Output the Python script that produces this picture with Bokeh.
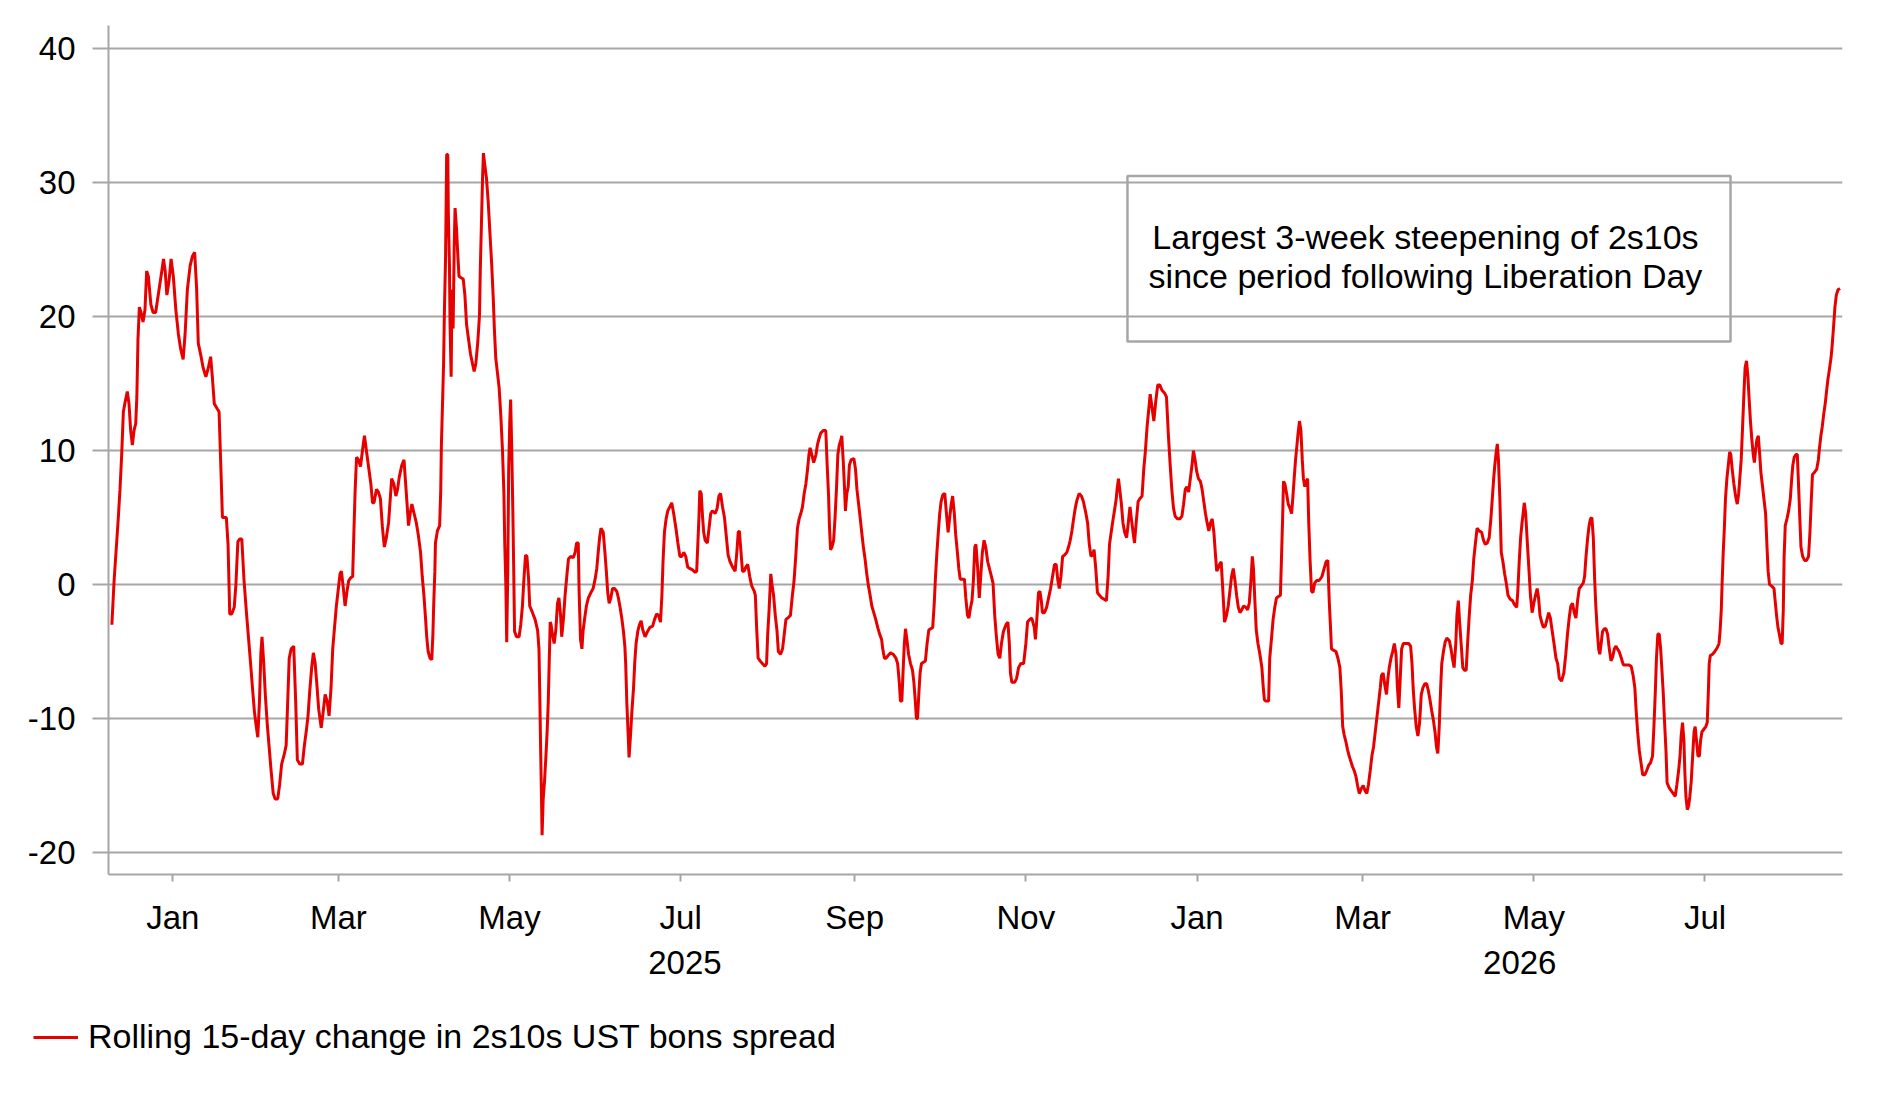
import pandas as pd
from bokeh.plotting import figure
from bokeh.layouts import column
from bokeh.models import (Range1d, LinearAxis, FixedTicker, BoxAnnotation, Label,
                          Legend, LegendItem, ColumnDataSource)
from bokeh.embed import file_html
from bokeh.resources import INLINE

# ---------------- data ----------------
start_date = "2025-01-01"          # day 0 of the day offsets below

# Dec 2024 - Mar 2025
days_a = [-21.7,-20.9,-20.1,-19.4,-18.8,-18.2,-17.6,-17.0,-16.2,-15.6,
          -15.0,-14.4,-13.8,-13.2,-12.8,-12.4,-11.9,-11.3,-10.6,-9.9,
          -9.3,-8.7,-7.8,-7.0,-6.1,-4.9,-3.9,-3.3,-2.7,-2.1,
          -1.3,-0.6,0.2,1.1,2.0,2.8,3.7,4.4,5.2,6.2,
          7.0,7.8,8.5,9.1,10.0,10.8,11.8,12.7,13.5,14.1,
          14.8,15.9,16.5,17.1,17.7,18.4,19.1,19.7,20.3,21.0,
          21.9,22.5,23.2,23.9,24.6,25.4,26.3,27.0,27.7,28.4,
          29.1,29.7,30.3,30.9,31.4,31.8,32.4,33.0,33.7,34.3,
          35.0,35.8,36.5,37.4,38.1,38.8,39.7,40.4,40.9,41.5,
          42.2,43.1,43.8,44.4,45.3,46.2,46.9,47.6,48.2,48.8,
          49.5,50.1,50.7,51.3,52.0,52.9,53.6,54.3,55.0,55.7,
          56.4,57.0,57.6,58.3,58.9,59.6,60.1,60.8,61.4,62.1,
          62.7,63.4,64.1,64.6,65.0,65.5,66.2,66.9,67.6,68.3,
          69.0,69.7,70.6,71.2,71.7,72.6,73.3,74.0,74.7,75.4,
          76.1,76.9,77.5,78.0,78.8,79.5]
vals_a = [-3.0,0.3,2.8,5.0,7.1,9.7,12.9,13.6,14.4,13.5,
          11.5,10.4,11.5,12.0,14.0,18.3,20.7,20.3,19.6,20.5,
          23.4,23.0,20.9,20.3,20.3,22.0,23.4,24.3,23.4,21.6,
          22.7,24.3,23.0,20.5,18.7,17.6,16.8,18.7,22.0,23.8,
          24.5,24.8,22.1,18.0,17.1,16.2,15.5,16.2,17.0,15.5,
          13.5,13.1,12.9,9.0,5.0,5.0,5.0,3.0,-2.2,-2.2,
          -1.7,0.0,3.2,3.4,3.4,0.3,-2.2,-4.0,-5.8,-7.7,
          -9.5,-10.5,-11.4,-8.7,-5.1,-3.9,-5.8,-8.3,-10.5,-12.0,
          -13.8,-15.6,-16.0,-16.0,-14.9,-13.4,-12.7,-12.0,-9.1,-5.5,
          -4.8,-4.6,-8.7,-13.1,-13.4,-13.4,-12.0,-10.9,-9.8,-8.0,
          -6.2,-5.1,-5.8,-7.3,-9.3,-10.7,-9.5,-8.2,-8.7,-9.8,
          -7.7,-4.8,-3.3,-1.6,-0.5,0.8,1.0,-0.3,-1.6,-0.5,
          0.3,0.5,0.6,4.3,7.1,9.5,9.3,8.8,10.0,11.1,
          10.0,8.9,7.5,6.1,6.1,7.1,6.9,6.4,4.3,2.8,
          3.5,4.6,6.4,7.9,7.5,6.6]

# Mar 2025 - Jul 2025
days_b = [80.1,80.7,81.6,82.4,83.0,83.5,84.0,84.6,85.2,86.0,
          86.8,87.5,88.3,88.9,89.5,90.1,90.5,91.0,91.7,92.3,
          92.7,93.0,93.4,93.6,94.3,95.1,95.5,95.7,96.1,96.5,
          96.8,97.2,97.4,97.6,98.0,98.2,98.6,98.8,99.2,99.5,
          99.9,100.3,100.6,101.1,101.6,102.0,102.7,103.5,104.1,104.7,
          105.4,106.1,106.8,107.4,108.0,108.7,109.3,109.6,110.0,110.4,
          110.7,111.2,111.8,112.4,113.0,113.6,114.2,114.6,115.1,115.7,
          116.3,116.9,117.5,118.0,118.3,118.7,119.0,119.4,119.7,120.1,
          120.4,120.8,121.2,121.5,121.8,122.5,123.4,124.0,124.6,125.1,
          125.7,126.2,126.8,127.2,128.2,129.1,130.0,130.5,130.8,131.1,
          131.4,131.6,132.0,132.5,132.9,133.4,133.8,134.1,134.5,134.8,
          135.3,135.9,136.5,137.1,137.6,138.2,138.6,139.2,139.8,140.4,
          141.0,141.8,142.7,143.4,143.9,144.5,144.8,145.3,145.8,146.2,
          146.8,147.4,148.1,149.0,149.8,150.5,151.1,151.6,152.1,152.6,
          153.4,154.0,154.5,155.0,155.5,156.1,156.7,157.4,158.2,158.8,
          159.4,160.0,160.6,161.1,161.4,161.8,162.3,162.6,163.1,163.6,
          164.2,164.6,165.1,165.7,166.3,166.9,167.5,168.3,169.2,170.0,
          171.0,171.7,172.4,173.1,173.8,174.3,174.7,175.2,175.8,176.4,
          177.1,177.8,178.5,179.3,180.0,180.7,181.4,182.1,182.8]
vals_b = [7.1,8.0,8.9,9.3,7.5,6.0,4.4,5.3,6.0,5.3,
          4.6,3.7,2.4,0.6,-0.8,-2.6,-3.9,-5.0,-5.5,-5.6,
          -3.7,-1.4,1.0,3.1,4.0,4.4,7.1,10.2,13.3,16.4,
          20.4,24.3,28.1,32.1,32.1,27.7,23.8,19.5,15.5,22.0,
          19.1,25.4,28.1,26.6,24.5,23.0,22.9,22.8,21.6,19.4,
          18.3,17.2,16.5,15.9,16.5,18.1,20.1,23.6,27.0,30.4,
          32.2,31.3,30.3,28.6,26.3,24.1,21.4,19.1,16.9,15.8,
          14.7,12.6,10.0,6.8,3.1,-0.1,-4.3,1.3,8.6,12.2,
          13.8,10.0,5.3,1.0,-3.5,-3.9,-3.9,-3.0,-1.6,0.3,
          2.2,2.1,0.4,-1.6,-2.1,-2.6,-3.4,-4.8,-8.4,-12.4,
          -16.0,-18.7,-16.0,-14.6,-13.1,-11.0,-8.8,-6.2,-2.8,-3.0,
          -3.7,-4.4,-3.4,-1.4,-1.0,-2.3,-3.9,-2.6,-0.8,0.6,
          1.9,2.1,2.0,2.4,3.1,3.1,-0.5,-4.1,-4.8,-3.5,
          -2.5,-1.6,-1.0,-0.6,-0.3,0.4,1.2,2.4,3.5,4.2,
          3.9,2.4,1.0,-0.6,-1.4,-1.0,-0.3,-0.3,-0.5,-1.0,
          -1.7,-2.5,-3.5,-4.6,-5.9,-8.8,-11.3,-12.9,-11.3,-9.5,
          -7.7,-5.9,-4.4,-3.5,-3.0,-2.7,-3.4,-3.9,-3.5,-3.2,
          -3.1,-2.6,-2.2,-2.3,-2.8,-0.8,1.7,3.9,4.9,5.5,
          5.8,6.1,5.3,4.2,3.1,2.1,2.1,2.4,2.1]

# Jul 2025 - Oct 2025
days_c = [183.5,184.2,185.2,186.2,186.7,187.1,187.5,187.8,188.3,188.8,
          189.2,189.7,190.5,191.1,191.7,192.3,193.3,194.0,194.6,195.2,
          195.9,196.6,197.3,197.9,198.6,199.5,200.4,201.0,201.5,201.9,
          202.5,203.0,203.6,204.2,204.9,205.6,206.3,207.2,207.6,208.1,
          208.6,209.3,210.1,211.0,211.6,212.0,212.5,213.1,213.6,214.1,
          214.7,215.3,215.8,216.6,217.3,217.9,218.5,219.2,220.1,220.8,
          221.4,222.0,222.6,223.2,223.8,224.4,225.0,225.6,226.2,226.7,
          227.1,227.7,228.4,229.2,229.7,230.3,230.9,231.8,232.7,233.2,
          233.7,234.0,234.4,234.9,235.5,236.0,236.5,237.0,237.5,238.1,
          238.4,238.9,239.4,239.7,240.2,240.7,241.1,241.7,242.7,243.3,
          243.8,244.4,245.0,245.5,246.1,246.7,247.3,247.9,248.5,249.1,
          249.8,250.5,251.2,251.9,252.6,253.0,253.6,254.2,254.9,255.8,
          256.7,257.7,258.3,258.9,259.3,259.8,260.3,260.7,261.1,261.6,
          262.2,262.9,263.6,264.1,264.6,265.0,265.4,265.9,266.3,266.8,
          267.5,268.2,268.8,269.4,270.1,270.8,271.3,271.8,272.3,272.9,
          273.3,273.8,274.4,275.1,275.7,276.3,276.8,277.4,277.9,278.5,
          279.0,279.6,280.1,280.6,281.4,282.1,282.6,283.2,283.7,284.3,
          284.8,285.3,285.8,286.2]
vals_c = [1.3,1.2,1.1,0.9,1.0,3.0,5.0,7.0,6.8,5.0,
          3.9,3.3,3.1,4.2,5.3,5.5,5.3,5.7,6.6,6.8,
          5.8,5.0,3.5,2.2,1.7,1.3,1.0,2.4,3.9,4.0,
          2.4,1.0,1.0,1.3,1.5,0.6,-0.1,-0.5,-0.8,-3.4,
          -5.5,-5.7,-5.9,-6.1,-5.9,-3.7,-1.9,0.8,-0.1,-0.8,
          -2.3,-3.4,-5.0,-5.2,-4.8,-3.7,-2.6,-2.5,-2.3,-0.8,
          0.3,2.1,4.2,4.9,5.3,5.8,6.8,7.5,8.6,9.7,
          10.2,9.7,9.1,9.7,10.4,10.9,11.3,11.5,11.5,8.9,
          6.6,4.4,2.6,2.8,3.3,5.0,7.1,9.7,10.4,10.8,
          11.1,9.3,7.1,5.5,6.8,7.3,8.9,9.3,9.4,8.6,
          7.1,6.0,4.9,3.9,2.8,1.9,0.8,-0.1,-0.8,-1.6,
          -2.1,-2.6,-3.2,-3.7,-4.1,-4.8,-5.5,-5.5,-5.3,-5.1,
          -5.2,-5.5,-5.9,-7.3,-8.7,-8.7,-6.2,-4.4,-3.3,-4.1,
          -5.2,-5.9,-6.4,-7.3,-8.7,-10.0,-10.0,-8.0,-6.6,-5.9,
          -5.8,-5.7,-4.4,-3.4,-3.3,-3.2,-1.6,0.6,2.4,4.2,
          5.3,6.2,6.7,6.8,5.3,3.9,4.9,6.0,6.6,5.3,
          3.7,2.4,1.2,0.4,0.4,0.4,-1.0,-2.3,-2.5,-1.7,
          -1.2,0.3,2.8,3.0]

# Oct 2025 - Jan 2026
days_d = [286.8,287.4,287.9,288.5,289.1,289.7,290.4,291.5,292.3,292.9,
          293.5,294.1,294.7,295.3,296.0,296.9,297.6,298.1,298.5,299.0,
          300.0,300.7,301.4,302.2,303.2,304.0,304.6,305.4,306.1,307.0,
          307.4,307.9,308.5,309.0,309.5,309.9,310.6,311.4,312.1,312.8,
          313.5,314.2,314.8,315.4,315.9,316.5,317.1,317.8,318.6,319.2,
          319.8,320.4,321.0,321.6,322.2,323.0,323.8,324.5,325.4,326.0,
          326.6,327.2,327.8,328.3,328.9,329.5,330.2,331.1,331.9,332.7,
          333.3,333.8,334.4,335.1,335.7,336.2,336.5,337.0,337.5,338.0,
          338.6,339.2,339.9,340.5,341.1,341.6,342.2,342.7,343.3,344.0,
          344.6,345.4,346.0,346.6,347.2,347.8,348.3,348.9,349.6,350.3,
          351.0,351.7,352.5,353.4,354.1,354.8,355.4,356.0,356.6,357.2,
          358.0,358.9,359.6,360.2,360.8,361.4,362.0,362.6,363.2,363.7,
          364.3,364.9,365.5,366.2,366.8,367.4,368.0,368.6,369.2,369.8,
          370.4,371.0,371.5,372.0,372.5,373.0,373.6,374.2,374.8,375.5,
          376.1,376.7,377.3,377.9,378.5,379.1,379.7,380.3,380.9,381.6,
          382.4,383.0,383.6,384.2,384.7,385.1,385.6,386.1,386.7,387.4,
          388.1,388.6,389.0,389.5]
vals_d = [1.3,-1.0,0.6,2.4,3.3,2.8,1.7,0.8,0.1,-2.3,
          -3.9,-5.2,-5.5,-4.4,-3.5,-3.0,-2.8,-4.4,-6.6,-7.3,
          -7.3,-7.0,-6.2,-5.9,-5.9,-4.4,-2.8,-2.6,-2.5,-3.2,
          -4.1,-2.6,-0.6,-0.5,-1.2,-2.1,-2.1,-1.7,-1.0,-0.3,
          0.6,1.5,1.5,0.3,-0.3,0.6,2.1,2.2,2.4,2.8,
          3.3,4.0,4.9,5.7,6.3,6.8,6.6,6.2,5.3,4.6,
          3.0,2.1,2.2,2.6,1.2,-0.6,-0.8,-1.0,-1.1,-1.2,
          0.6,3.0,3.9,4.9,5.7,6.4,7.1,7.9,7.0,6.1,
          4.6,3.9,3.5,4.6,5.8,4.9,3.9,3.1,4.6,6.2,
          6.4,6.6,8.6,10.0,11.8,13.1,14.2,13.3,12.2,13.7,
          14.9,14.9,14.5,14.3,14.0,11.1,9.0,7.1,5.7,5.1,
          4.9,4.9,5.1,6.0,7.1,7.3,6.9,7.9,8.9,10.0,
          9.3,8.4,7.9,7.7,7.1,6.2,5.3,4.6,4.0,4.6,
          4.9,3.9,2.4,1.0,1.2,1.5,1.7,-0.5,-2.8,-2.3,
          -1.6,-0.5,0.6,1.2,0.3,-0.8,-1.7,-2.1,-1.9,-1.6,
          -1.7,-1.9,-1.4,0.3,2.1,1.2,-1.2,-3.4,-4.4,-5.2,
          -6.2,-7.7,-8.6,-8.7]

# Jan 2026 - May 2026
days_e = [390.5,390.9,391.5,392.1,392.7,393.3,394.0,394.7,395.1,395.5,
          395.8,396.3,396.9,397.5,398.1,398.7,399.1,399.6,400.1,400.6,
          401.0,401.5,402.0,402.5,402.9,403.4,403.9,404.4,404.8,405.3,
          405.8,406.3,406.9,407.6,408.5,409.5,410.3,411.0,411.6,412.1,
          412.6,412.9,413.6,414.5,415.2,415.9,416.4,416.9,417.4,418.0,
          418.6,419.2,419.8,420.4,421.0,421.6,422.2,422.8,423.6,424.2,
          424.9,425.5,426.1,426.7,427.3,427.9,428.5,429.1,429.7,430.3,
          430.7,431.3,431.9,432.5,433.0,433.5,434.1,434.7,435.3,435.9,
          436.4,436.9,437.4,437.9,438.5,439.4,440.4,441.1,441.6,442.0,
          442.5,443.1,443.7,444.3,444.9,445.5,446.2,446.8,447.4,448.0,
          448.6,449.2,449.8,450.3,450.8,451.3,451.8,452.2,452.8,453.4,
          454.0,454.9,455.5,456.0,456.6,457.2,457.6,458.1,458.5,459.1,
          459.7,460.3,460.9,461.4,462.0,462.5,463.1,463.6,464.2,464.8,
          465.5,466.4,467.1,467.7,468.4,469.1,469.7,470.2,470.7,471.1,
          471.6,472.0,472.4,472.9,473.4,474.0,474.6,475.2,475.8,476.6,
          477.4,478.1,478.9,479.3,479.8,480.3,480.8,481.2,481.6,482.1,
          482.7,483.3,483.8,484.4,485.0,485.6,486.2,486.7,487.2,487.8,
          488.4,489.1,489.7,490.3,490.9,491.5,492.2,492.9]
vals_e = [-8.7,-5.5,-4.1,-2.6,-1.7,-1.0,-0.9,-0.8,2.1,5.0,
          7.7,7.5,6.8,6.0,5.7,5.3,6.4,7.9,9.3,10.4,
          11.3,12.2,11.5,9.3,7.9,7.3,7.7,7.9,4.6,1.7,
          -0.5,-0.6,0.1,0.3,0.3,0.6,1.2,1.7,1.8,-1.2,
          -3.4,-4.8,-4.9,-5.0,-5.5,-6.2,-8.0,-10.6,-11.2,-11.7,
          -12.3,-12.8,-13.2,-13.6,-13.9,-14.3,-15.0,-15.6,-15.2,-15.0,
          -15.4,-15.6,-14.9,-13.9,-12.8,-12.1,-11.0,-9.9,-8.8,-7.7,
          -6.8,-6.6,-7.5,-8.2,-7.0,-6.2,-5.5,-5.0,-4.4,-5.2,
          -7.7,-9.2,-7.0,-4.8,-4.4,-4.4,-4.4,-4.6,-5.9,-7.7,
          -9.2,-10.6,-11.3,-10.3,-8.2,-7.7,-7.4,-7.4,-7.9,-8.6,
          -9.4,-10.1,-11.0,-12.1,-12.6,-10.6,-7.7,-5.9,-5.0,-4.3,
          -4.0,-4.2,-4.8,-5.5,-6.2,-4.4,-2.3,-1.2,-2.6,-4.4,
          -6.2,-6.4,-6.4,-4.4,-2.3,-0.8,0.3,1.9,3.1,4.2,
          4.0,3.9,3.3,3.0,3.1,3.5,4.9,6.4,7.9,8.9,
          9.9,10.5,9.3,6.4,2.4,1.7,0.8,0.1,-0.8,-1.1,
          -1.2,-1.5,-1.7,-0.5,1.7,3.5,4.6,5.3,6.1,5.3,
          3.1,1.0,-0.8,-2.1,-1.4,-0.8,-0.3,-1.0,-2.3,-2.8,
          -3.2,-3.1,-2.6,-2.1,-2.5,-3.4,-4.4,-5.5]

# May 2026 - Aug 2026
days_f = [493.5,494.1,494.9,495.7,496.4,497.0,497.6,498.2,498.8,499.4,
          500.0,500.6,501.2,501.9,502.6,503.1,503.6,504.2,504.7,505.2,
          505.7,506.2,506.7,507.1,507.6,508.1,508.5,509.0,509.5,510.1,
          510.7,511.3,511.9,512.5,513.1,513.7,514.3,514.8,515.4,516.2,
          516.9,517.8,518.8,519.7,520.4,521.0,521.5,522.0,522.6,523.2,
          523.8,524.5,525.2,525.9,526.6,527.3,527.8,528.3,528.7,529.2,
          529.7,530.2,530.6,531.1,531.6,532.1,532.5,533.3,534.0,534.7,
          535.4,536.0,536.6,537.1,537.5,538.0,538.5,538.8,539.2,539.7,
          540.2,540.6,541.1,541.6,542.1,542.5,543.0,543.5,544.0,544.4,
          544.9,545.6,546.3,546.8,547.2,547.5,547.9,548.7,549.5,550.4,
          551.0,551.4,551.8,552.1,552.5,552.9,553.3,553.8,554.3,554.8,
          555.2,555.7,556.3,556.9,557.5,558.0,558.4,558.9,559.4,559.9,
          560.3,560.8,561.3,561.8,562.2,562.7,563.2,563.6,564.0,564.5,
          565.0,565.5,565.9,566.4,567.0,567.6,568.1,568.5,569.0,569.7,
          570.6,571.0,571.5,572.0,572.5,573.1,573.5,573.9,574.2,574.6,
          575.2,575.8,576.4,576.9,577.3,577.8,578.4,578.9,579.4,579.8,
          580.2,580.8,581.5,582.2,582.9,583.4,583.9,584.3,585.1,585.8,
          586.4,586.8,587.3,587.8,588.3,588.9,589.3,589.8,590.3,590.9,
          591.3,591.8,592.3,592.8,593.4,594.1]
vals_f = [-5.9,-7.0,-7.2,-6.6,-5.2,-3.7,-2.5,-1.6,-1.4,-2.1,
          -2.5,-1.2,-0.3,-0.1,0.1,0.6,2.1,3.5,4.4,4.9,
          5.0,3.5,0.3,-1.6,-3.4,-4.8,-5.2,-4.4,-3.5,-3.3,
          -3.3,-3.7,-4.8,-5.7,-5.4,-4.8,-4.6,-4.8,-5.0,-5.5,
          -6.0,-6.0,-6.0,-6.1,-6.8,-7.7,-9.5,-11.0,-12.4,-13.3,
          -14.2,-14.2,-13.9,-13.5,-13.3,-12.8,-10.6,-8.0,-5.5,-3.7,
          -3.7,-4.8,-6.2,-8.0,-10.3,-12.4,-14.8,-15.2,-15.4,-15.6,
          -15.8,-14.9,-13.9,-12.8,-11.3,-10.3,-11.7,-13.9,-15.8,-16.8,
          -16.5,-15.8,-14.7,-12.8,-11.0,-10.6,-11.7,-12.8,-12.8,-11.7,
          -11.0,-10.8,-10.6,-10.3,-8.0,-5.9,-5.3,-5.2,-5.0,-4.7,
          -4.4,-3.4,-1.9,0.1,2.4,4.2,6.4,7.9,8.9,9.9,
          9.7,8.6,7.5,6.6,6.0,6.8,7.9,9.3,11.8,14.4,
          16.2,16.7,15.5,13.6,12.2,10.8,9.7,9.1,10.0,10.8,
          11.1,9.7,8.4,7.5,6.4,5.3,2.8,1.0,0.0,-0.1,
          -0.3,-1.2,-2.3,-3.2,-3.7,-4.4,-4.4,-1.9,2.1,4.4,
          4.9,5.5,6.4,7.9,8.9,9.5,9.7,9.7,7.1,4.9,
          2.8,2.1,1.8,1.8,2.1,3.9,6.4,8.2,8.4,8.6,
          9.3,10.2,11.1,11.8,12.7,13.6,14.4,15.3,16.0,16.9,
          17.8,19.2,20.7,21.6,22.0,22.1]

series_label = "Rolling 15-day change in 2s10s UST bons spread"
tick_dates = ["2025-01-01", "2025-03-01", "2025-05-01", "2025-07-01", "2025-09-01",
              "2025-11-01", "2026-01-01", "2026-03-01", "2026-05-01", "2026-07-01"]
tick_labels = ["Jan", "Mar", "May", "Jul", "Sep", "Nov", "Jan", "Mar", "May", "Jul"]
year_labels = ["2025", "2026"]
y_ticks = [-20, -10, 0, 10, 20, 30, 40]
y_tick_labels = ["-20", "-10", "0", "10", "20", "30", "40"]
note_lines = ["Largest 3-week steepening of 2s10s", "since period following Liberation Day"]

# ---------------- build ----------------
day_parts = [days_a, days_b, days_c, days_d, days_e, days_f]
val_parts = [vals_a, vals_b, vals_c, vals_d, vals_e, vals_f]
for dpart, vpart in zip(day_parts, val_parts):
    assert len(dpart) == len(vpart), (len(dpart), len(vpart))
days = [d for part in day_parts for d in part]
vals = [v for part in val_parts for v in part]

base = pd.Timestamp(start_date)
src = ColumnDataSource(dict(day=days, val=vals,
                            date=[base + pd.Timedelta(days=d) for d in days]))

tick_days = [int((pd.Timestamp(t) - base).days) for t in tick_dates]

X_START, X_END = -22.9, 595.0
Y_START, Y_END = -21.64, 41.72

year_starts = [(pd.Timestamp(y + "-01-01") - base).days for y in year_labels]
year_ends = [min((pd.Timestamp(y + "-12-31") - base).days + 1, X_END) for y in year_labels]
year_mid = [round((max(s, X_START) + e) / 2.0, 1) for s, e in zip(year_starts, year_ends)]

GRAY = "#A6A6A6"
RED = "#E60000"
FONT = "Liberation Sans"
FS = "33px"
W = 1867

p = figure(width=W, height=1000, output_backend="svg", toolbar_location=None,
           x_range=Range1d(X_START, X_END), y_range=Range1d(Y_START, Y_END),
           min_border_left=108, min_border_right=25, min_border_top=25,
           min_border_bottom=126)
p.frame_align = False
p.outline_line_color = None
p.background_fill_color = "white"
p.border_fill_color = "white"

r = p.line("day", "val", source=src, line_color=RED, line_width=3.0)

# y axis & grid
ya = p.yaxis[0]
ya.ticker = FixedTicker(ticks=y_ticks)
ya.major_label_overrides = {t: s for t, s in zip(y_ticks, y_tick_labels)}
ya.axis_line_color = GRAY
ya.axis_line_width = 2
ya.major_tick_line_color = GRAY
ya.major_tick_line_width = 2
ya.major_tick_out = 16
ya.major_tick_in = 0
ya.minor_tick_line_color = None
ya.major_label_text_font = FONT
ya.major_label_text_font_size = FS
ya.major_label_text_color = "black"
ya.major_label_standoff = 17

p.ygrid.ticker = FixedTicker(ticks=y_ticks)
p.ygrid.grid_line_color = GRAY
p.ygrid.grid_line_width = 2.2
p.xgrid.visible = False

# x axis (months)
xa = p.xaxis[0]
xa.ticker = FixedTicker(ticks=tick_days)
xa.major_label_overrides = {d: lab for d, lab in zip(tick_days, tick_labels)}
xa.axis_line_color = GRAY
xa.axis_line_width = 2.2
xa.major_tick_line_color = GRAY
xa.major_tick_line_width = 2
xa.major_tick_out = 7
xa.major_tick_in = 0
xa.minor_tick_line_color = None
xa.major_label_text_font = FONT
xa.major_label_text_font_size = FS
xa.major_label_text_color = "black"
xa.major_label_standoff = 17

# second x axis (years)
yr = LinearAxis(ticker=FixedTicker(ticks=year_mid),
                major_label_overrides={m: lab for m, lab in zip(year_mid, year_labels)},
                axis_line_color=None, major_tick_line_color=None,
                minor_tick_line_color=None, major_tick_out=0, major_tick_in=0,
                major_label_text_font=FONT, major_label_text_font_size=FS,
                major_label_text_color="black", major_label_standoff=12)
p.add_layout(yr, "below")

# annotation box with note
box = BoxAnnotation(left=340.2, right=555.1, bottom=18.14, top=30.48,
                    fill_color=None, fill_alpha=0, line_color=GRAY,
                    line_alpha=1.0, line_width=2.5)
p.add_layout(box)
for txt, yv in zip(note_lines, [25.97, 23.06]):
    p.add_layout(Label(x=446.4, y=yv, text=txt, text_align="center",
                       text_baseline="alphabetic", text_font=FONT,
                       text_font_size="34px", text_color="black"))

# legend strip below the chart (same series, drawn outside its visible range)
pl = figure(width=W, height=80, output_backend="svg", toolbar_location=None,
            x_axis_type=None, y_axis_type=None, min_border=0,
            x_range=Range1d(-2000, -1999), y_range=Range1d(Y_START, Y_END))
pl.frame_align = False
pl.outline_line_color = None
pl.grid.visible = False
rl = pl.line("day", "val", source=src, line_color=RED, line_width=3.0)
legend = Legend(items=[LegendItem(label=series_label, renderers=[rl])],
                location=(33, 24), glyph_width=45, glyph_height=20,
                label_standoff=10, padding=0, margin=0, spacing=0,
                border_line_color=None, background_fill_alpha=0,
                label_text_font=FONT, label_text_font_size="34px",
                label_text_color="black")
pl.add_layout(legend)

open("out.html", "w").write(file_html(column(p, pl, spacing=0), INLINE))
